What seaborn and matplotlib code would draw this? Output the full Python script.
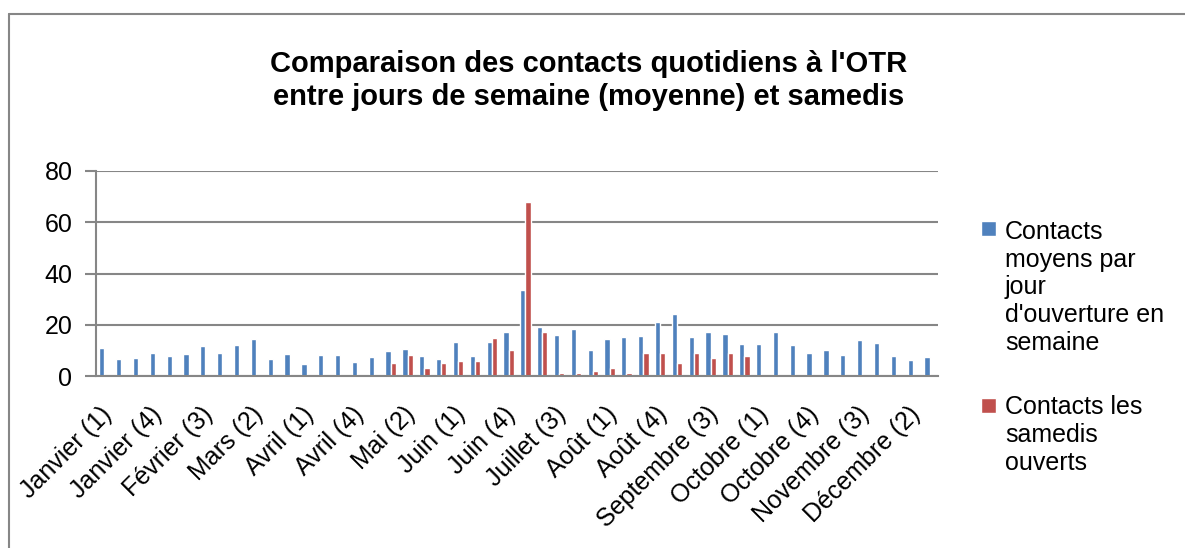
import numpy as np
import pandas as pd
import matplotlib
matplotlib.use("Agg")
import matplotlib.pyplot as plt
import matplotlib.transforms as mtransforms
import seaborn as sns
from matplotlib.lines import Line2D
from matplotlib.patches import Rectangle
from matplotlib.legend_handler import HandlerPatch

# ── Data ──────────────────────────────────────────────────────────
MONTH_WEEKS = [
    ("Janvier", 4), ("Février", 4), ("Mars", 4), ("Avril", 5),
    ("Mai", 4), ("Juin", 4), ("Juillet", 5), ("Août", 4),
    ("Septembre", 5), ("Octobre", 4), ("Novembre", 4), ("Décembre", 3),
]
weeks = [f"{m} ({i})" for m, n in MONTH_WEEKS for i in range(1, n + 1)]

semaine = [
    10.8, 6.6, 7.0, 9.0, 7.9, 8.6, 11.6, 9.0, 12.2, 14.3,
    6.6, 8.7, 4.6, 8.2, 8.3, 5.5, 7.5, 9.8, 10.5, 7.7,
    6.6, 13.3, 7.9, 13.3, 17.3, 33.6, 19.1, 16.0, 18.2, 10.1,
    14.4, 15.2, 15.6, 20.9, 24.2, 15.2, 17.0, 16.4, 12.5, 12.6,
    17.2, 12.2, 8.8, 10.1, 8.2, 14.0, 13.0, 7.9, 6.2, 7.3,
]
samedis = [
    0, 0, 0, 0, 0, 0, 0, 0, 0, 0,
    0, 0, 0, 0, 0, 0, 0, 5.1, 8.1, 3.0,
    5.1, 6.0, 6.0, 15.0, 10.0, 67.9, 17.0, 1.0, 1.0, 2.0,
    3.0, 1.0, 9.0, 9.0, 5.1, 9.0, 7.0, 9.0, 7.9, 0,
    0, 0, 0, 0, 0, 0, 0, 0, 0, 0,
]

SERIES = [
    "Contacts\nmoyens par\njour\nd'ouverture en\nsemaine",
    "Contacts les\nsamedis\nouverts",
]
COLORS = ["#4F81BD", "#C0504D"]

TITLE = ("Comparaison des contacts quotidiens à l'OTR\n"
         "entre jours de semaine (moyenne) et samedis")

FS = 18          # tick / legend font size
LSP = 1.2        # legend line spacing

# ── Plot ──────────────────────────────────────────────────────────
df = pd.DataFrame({
    "semaine": weeks * 2,
    "contacts": semaine + samedis,
    "serie": [SERIES[0]] * len(weeks) + [SERIES[1]] * len(weeks),
})

sns.set_theme(style="white")
plt.rcParams["font.family"] = ["Liberation Sans", "DejaVu Sans"]
plt.rcParams.update({
    "text.color": "black",
    "xtick.labelcolor": "black",
    "ytick.labelcolor": "black",
})

fig = plt.figure(figsize=(11.85, 5.48), dpi=100)
ax = fig.add_axes([96 / 1185, 1 - 376 / 548, (938 - 96) / 1185, (376 - 171) / 548])

sns.barplot(
    data=df, x="semaine", y="contacts", hue="serie",
    palette=COLORS, saturation=1, width=0.62, ax=ax, legend=True,
)

ax.set_xlim(-0.5, len(weeks) - 0.5)
ax.set_ylim(0, 80)
ax.set_yticks(range(0, 81, 20))
ax.yaxis.grid(True, color="#868686", linewidth=1.5)
ax.set_axisbelow(True)
ax.set_xlabel("")
ax.set_ylabel("")

ticks = list(range(0, len(weeks), 3))
ax.set_xticks(ticks)
ax.set_xticklabels([weeks[i] for i in ticks], rotation=45, ha="right",
                   rotation_mode="anchor", fontsize=FS, color="black")
ax.tick_params(axis="x", length=0, pad=19)
ax.tick_params(axis="y", length=8, width=1.5, color="#868686",
               labelsize=FS, labelcolor="black", pad=9, left=True)
shift = mtransforms.ScaledTranslation(-5 / 100, 0, fig.dpi_scale_trans)
for lab in ax.get_xticklabels():
    lab.set_transform(lab.get_transform() + shift)

for side in ["top", "right"]:
    ax.spines[side].set_visible(False)
for side in ["left", "bottom"]:
    ax.spines[side].set_color("#868686")
    ax.spines[side].set_linewidth(1.5)

# legend: square marker aligned with the first line of each label
handles, labels = ax.get_legend_handles_labels()
ax.legend_.remove()
n_lines = {id(h): lab.count("\n") + 1 for h, lab in zip(handles, labels)}


def top_square(legend, orig_handle, xdescent, ydescent, width, height, fontsize):
    up = (n_lines[id(orig_handle)] - 1) / 2 * LSP * fontsize
    size = 0.6 * fontsize
    return Rectangle((-xdescent, -ydescent + up + (height - size) / 2),
                     size, size)


leg = fig.legend(
    handles, labels, loc="upper left", bbox_to_anchor=(0.809, 0.64),
    frameon=False, fontsize=FS, handlelength=0.6, handleheight=0.6,
    handletextpad=0.35, labelspacing=1.6,
    handler_map={h: HandlerPatch(patch_func=top_square) for h in handles},
)
for t in leg.get_texts():
    t.set_linespacing(LSP)
    t.set_color("black")

fig.text(0.497, 0.853, TITLE, ha="center", va="center", fontsize=21,
         fontweight="bold", linespacing=1.2, color="black")

# outer chart border (left & top only visible)
fig.add_artist(Line2D([9 / 1185, 9 / 1185], [0, 1 - 14 / 548],
                      transform=fig.transFigure, color="#868686", lw=1.5))
fig.add_artist(Line2D([9 / 1185, 1], [1 - 14 / 548, 1 - 14 / 548],
                      transform=fig.transFigure, color="#868686", lw=1.5))

fig.savefig("out.png", dpi=100)
